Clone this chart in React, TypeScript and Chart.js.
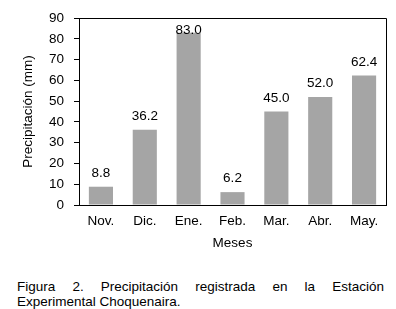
import React, { useEffect, useRef } from "react";
import { Chart, registerables } from "chart.js";

Chart.register(...registerables);

const categories = ["Nov.", "Dic.", "Ene.", "Feb.", "Mar.", "Abr.", "May."];
const precipitation = [8.8, 36.2, 83.0, 6.2, 45.0, 52.0, 62.4];
const yTicks = [0, 10, 20, 30, 40, 50, 60, 70, 80, 90];
const yTitle = "Precipitación (mm)";
const xTitle = "Meses";
const captionLine1 = "Figura 2. Precipitación registrada en la Estación";
const captionLine2 = "Experimental Choquenaira.";

const FONT = "'Liberation Sans', Arial, Helvetica, sans-serif";
const FS = 13.5;
const W = 396;
const H = 262;

export default function App() {
  const ref = useRef<HTMLCanvasElement | null>(null);

  useEffect(() => {
    if (!ref.current) return;
    const boxPlugin = {
      id: "boxPlugin",
      afterDraw(chart: any) {
        const { ctx, chartArea } = chart;
        ctx.save();
        ctx.strokeStyle = "#000";
        ctx.lineWidth = 1;
        ctx.beginPath();
        ctx.moveTo(chartArea.left, Math.round(chartArea.top) + 0.5);
        ctx.lineTo(Math.round(chartArea.right) + 0.5, Math.round(chartArea.top) + 0.5);
        ctx.lineTo(Math.round(chartArea.right) + 0.5, chartArea.bottom);
        ctx.stroke();
        ctx.restore();
      },
    };
    const labelPlugin = {
      id: "labelPlugin",
      afterDatasetsDraw(chart: any) {
        const { ctx, chartArea } = chart;
        const meta = chart.getDatasetMeta(0);
        ctx.save();
        ctx.font = `${FS}px ${FONT}`;
        ctx.fillStyle = "#000";
        ctx.textAlign = "center";
        ctx.textBaseline = "middle";
        meta.data.forEach((el: any, i: number) => {
          const v = chart.data.datasets[0].data[i] as number;
          const y = Math.max(el.y - 13.5, chartArea.top + 12);
          ctx.fillText(v.toFixed(1), el.x, y);
        });
        ctx.restore();
      },
    };
    const chart = new Chart(ref.current, {
      type: "bar",
      data: {
        labels: categories,
        datasets: [
          {
            data: precipitation,
            backgroundColor: "#A5A5A5",
            borderWidth: 0,
            categoryPercentage: 1,
            barPercentage: 0.55,
          },
        ],
      },
      options: {
        responsive: false,
        animation: false,
        devicePixelRatio: 1,
        layout: { padding: { top: 10, right: 10, left: 0, bottom: 0 } },
        plugins: {
          legend: { display: false },
          tooltip: { enabled: false },
        },
        scales: {
          x: {
            grid: { display: true, drawOnChartArea: false, drawTicks: false, color: "#000" },
            border: { display: true, color: "#000", width: 1 },
            ticks: { font: { size: FS, family: FONT }, color: "#000", padding: 8, maxRotation: 0 },
            title: {
              display: true,
              text: xTitle,
              font: { size: FS, family: FONT },
              color: "#000",
              padding: { top: 0, bottom: 11 },
            },
            afterFit: (s: any) => {
              s.height = 57;
            },
          },
          y: {
            min: 0,
            max: 90,
            afterBuildTicks: (s: any) => {
              s.ticks = yTicks.map((v) => ({ value: v }));
            },
            grid: { display: true, drawOnChartArea: false, drawTicks: true, tickLength: 5, color: "#000" },
            border: { display: true, color: "#000", width: 1 },
            ticks: { font: { size: FS, family: FONT }, color: "#000", padding: 10 },
            title: {
              display: true,
              text: yTitle,
              font: { size: FS, family: FONT },
              color: "#000",
              padding: { top: 20, bottom: 0 },
            },
            afterFit: (s: any) => {
              s.width = 79;
            },
          },
        },
      },
      plugins: [boxPlugin, labelPlugin],
    } as any);
    return () => chart.destroy();
  }, []);

  return (
    <div style={{ position: "absolute", left: 0, top: 0, width: W, height: 309, background: "#fff" }}>
      <canvas ref={ref} width={W} height={H} style={{ display: "block", width: W, height: H }} />
      <div
        style={{
          position: "absolute",
          left: 17,
          top: 279,
          width: 367,
          fontFamily: FONT,
          fontSize: FS,
          lineHeight: "15px",
          color: "#000",
        }}
      >
        <div style={{ textAlign: "justify", textAlignLast: "justify" as any }}>{captionLine1}</div>
        <div>{captionLine2}</div>
      </div>
    </div>
  );
}
